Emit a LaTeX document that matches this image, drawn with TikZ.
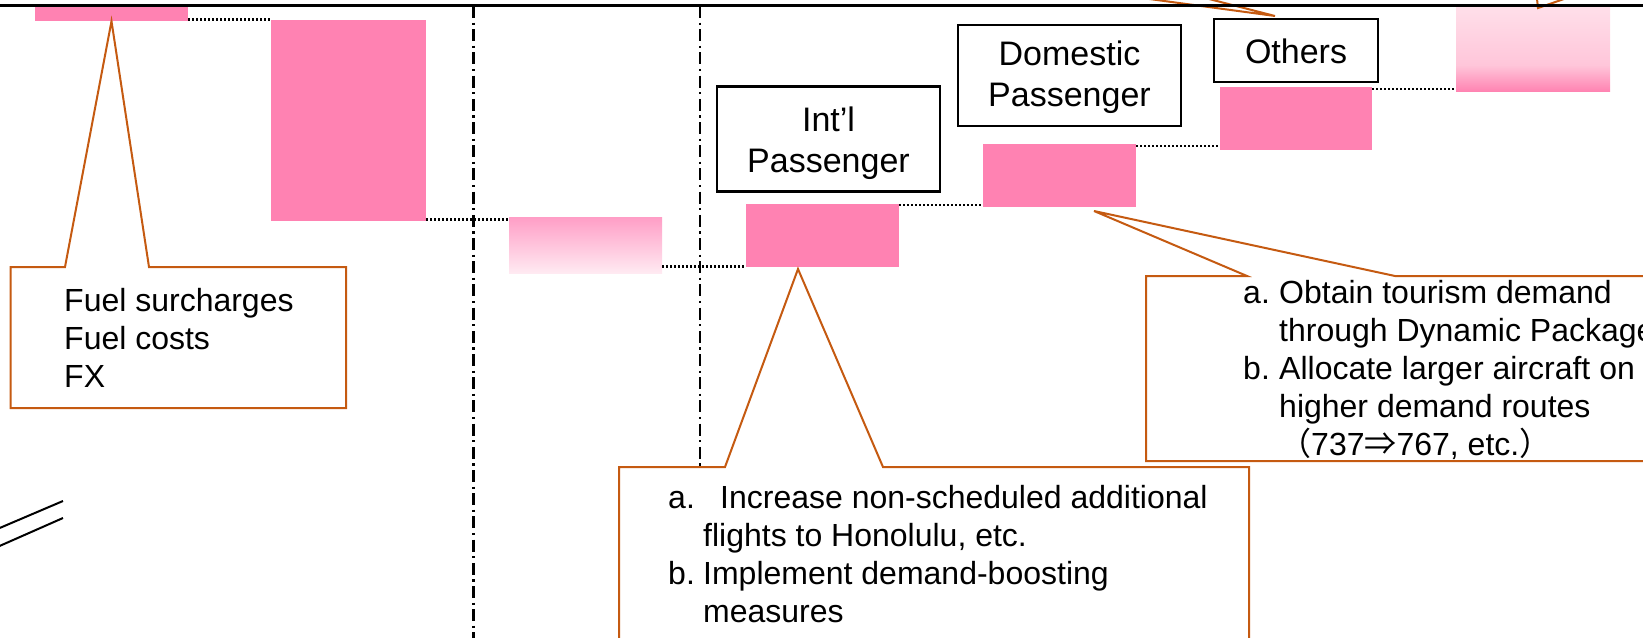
\documentclass[tikz,border=0pt]{standalone}
\usepackage{fontspec}
\setmainfont{Liberation Sans}
\newfontfamily\cjk{Noto Sans CJK JP}
\definecolor{barpink}{RGB}{255,130,178}
\definecolor{calloutorange}{RGB}{197,90,17}
\definecolor{gradtopA}{RGB}{255,158,198}
\definecolor{gradbotA}{RGB}{255,234,242}
\definecolor{gradtopB}{RGB}{255,224,234}
\definecolor{gradmidB}{RGB}{255,198,218}
\definecolor{gradbotB}{RGB}{255,132,178}
\pgfdeclareverticalshading{othersgrad}{100bp}{color(0bp)=(gradbotB); color(25bp)=(gradbotB); color(40bp)=(gradmidB); color(75bp)=(gradtopB); color(100bp)=(gradtopB)}
\begin{document}
\begin{tikzpicture}[x=1pt,y=-1pt,
  bar/.style={rectangle, fill=barpink, draw=none, inner sep=0pt},
  gradbar/.style={rectangle, draw=none, inner sep=0pt},
  dotline/.style={line width=2.6pt, dash pattern=on 2.2pt off 1.8pt, black},
  dashdotline/.style={line width=2.6pt, dash pattern=on 12pt off 4.5pt on 2.2pt off 4.5pt, black},
  callout/.style={draw=calloutorange, line width=2pt, fill=white, line join=miter},
  callline/.style={draw=calloutorange, line width=2pt},
  labelbox/.style={rectangle, draw=black, line width=2.4pt, fill=white, inner sep=0pt},
  labeltext/.style={inner sep=0pt, anchor=base, font=\fontsize{34pt}{41.5pt}\selectfont},
  calltext/.style={inner sep=0pt, anchor=base west, font=\fontsize{32pt}{38pt}\selectfont},
  slash/.style={line width=2pt, black}]
\useasboundingbox (0,0) rectangle (1643,637);
\clip (0,0) rectangle (1643,637);

% bars
\node[bar, minimum width=153pt, minimum height=16pt] (r1) at (111.5,13) {};
\node[bar, minimum width=155pt, minimum height=201pt] (r2) at (348.5,120.5) {};
\node[gradbar, top color=gradtopA, bottom color=gradbotA, minimum width=153pt, minimum height=56pt] (r3) at (585.5,245) {};
\node[bar, minimum width=153pt, minimum height=63pt] (r4) at (822.5,235.5) {};
\node[bar, minimum width=153pt, minimum height=63pt] (r5) at (1059.5,175.5) {};
\node[bar, minimum width=152pt, minimum height=63pt] (r6) at (1296,118.5) {};
\node[gradbar, shading=othersgrad, minimum width=154pt, minimum height=87pt] (r7) at (1533,47.5) {};

% dotted connectors
\coordinate (c12) at ([yshift=2pt]r1.south east);
\draw[dotline] (c12) -- (c12 -| r2.west);
\coordinate (c23) at ([yshift=2pt]r2.south east);
\draw[dotline] (c23) -- (c23 -| r3.west);
\coordinate (c34) at ([yshift=1pt]r4.south west);
\draw[dotline] (c34 -| r3.east) -- (c34);
\coordinate (c45) at ([yshift=-1pt]r4.north east);
\draw[dotline] (c45) -- (c45 -| r5.west);
\coordinate (c56) at ([yshift=-2pt]r5.north east);
\draw[dotline] (c56) -- (c56 -| r6.west);
\coordinate (c67) at ([yshift=-2pt]r6.north east);
\draw[dotline] (c67) -- (c67 -| r7.west);

% dash-dot separators
\coordinate (v1t) at (473.5,6); \coordinate (v1b) at (473.5,640);
\coordinate (v2t) at (700,6);   \coordinate (v2b) at (700,640);
\draw[dashdotline] (v1t) -- (v1b);
\draw[dashdotline] (v2t) -- (v2b);

% callouts
\draw[callout] (10.5,267) -- (65,267) -- (r1.south) -- (149,267) -- (346,267) -- (346,408) -- (10.5,408) -- cycle;
\node[calltext] (fueltxt) at (64,311) {\parbox[t]{270pt}{\raggedright Fuel surcharges\\Fuel costs\\FX}};

\coordinate (intltip) at (798,269);
\draw[callout] (619,467) -- (725,467) -- (intltip) -- (883,467) -- (1249,467) -- (1249,660) -- (619,660) -- cycle;
\node[calltext] (intltxt) at (668,508) {\parbox[t]{900pt}{\raggedright \makebox[52pt][l]{a.}Increase non-scheduled additional\\\hspace*{35pt}flights to Honolulu, etc.\\\makebox[35pt][l]{b.}Implement demand-boosting\\\hspace*{35pt}measures}};

\coordinate (domtip) at (1094,211);
\draw[callout] (1146,276) -- (1247,276) -- (domtip) -- (1395,276) -- (1670,276) -- (1670,461) -- (1146,461) -- cycle;
\node[calltext] (domtxt) at (1243,303) {\parbox[t]{700pt}{\raggedright \makebox[36pt][l]{a.}Obtain tourism demand\\\hspace*{36pt}through Dynamic Package\\\makebox[36pt][l]{b.}Allocate larger aircraft on\\\hspace*{36pt}higher demand routes\\\hspace*{36pt}{\cjk （}737{\cjk ⇒}767, etc.{\cjk ）}}};

% pointers entering from above
\coordinate (otip) at (1275,16);
\coordinate (oa) at (1083,-10); \coordinate (ob) at (1174,-10);
\draw[callline] (oa) -- (otip) -- (ob);
\coordinate (r7tip) at (1538,8);
\coordinate (ra) at (1536,-10); \coordinate (rb) at (1590,-10);
\draw[callline] (ra) -- (r7tip) -- (rb);

% label boxes
\node[labelbox, minimum width=223pt, minimum height=105pt] (intlbox) at (828.5,139) {};
\node[labeltext] (intllbl) at (828.5,131) {\parbox[t]{220pt}{\centering Int’l\\Passenger}};
\node[labelbox, minimum width=223pt, minimum height=101pt] (dombox) at (1069.5,75.5) {};
\node[labeltext] (domlbl) at (1069.5,65) {\parbox[t]{220pt}{\centering Domestic\\Passenger}};
\node[labelbox, minimum width=164pt, minimum height=63pt] (othbox) at (1296,50.5) {};
\node[labeltext] (othlbl) at (1296,63) {Others};

% double slash
\coordinate (s1a) at (-5,530); \coordinate (s1b) at (63,501);
\coordinate (s2a) at (-5,548); \coordinate (s2b) at (63,518);
\draw[slash] (s1a) -- (s1b);
\draw[slash] (s2a) -- (s2b);

% top axis line
\coordinate (tl) at (-5,5.3); \coordinate (tr) at (1650,5.3);
\draw[line width=2.8pt, black] (tl) -- (tr);
\end{tikzpicture}
\end{document}
